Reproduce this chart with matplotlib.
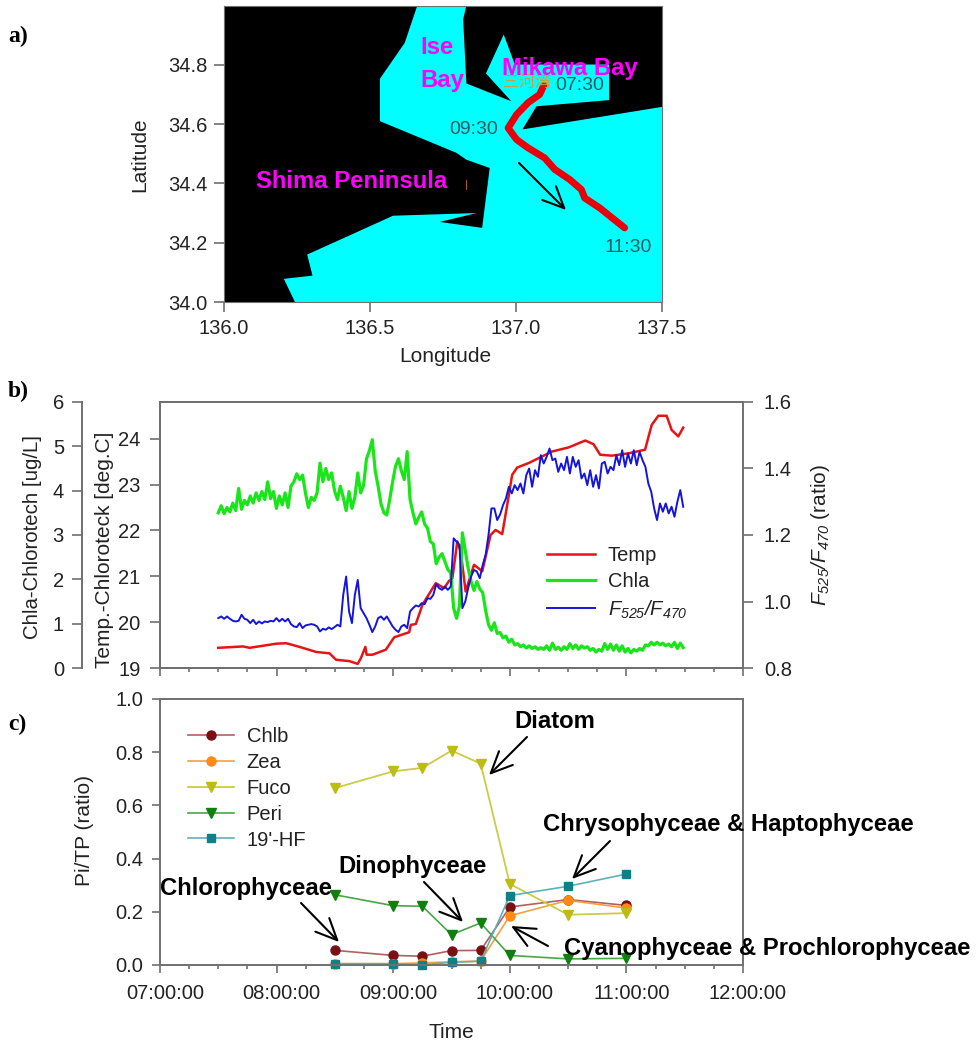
"""three panel figure: ship track map, underway temp/chla/fluorescence ratio, pigment ratios"""
import numpy as np
import matplotlib
matplotlib.use("Agg")
import matplotlib.pyplot as plt
from matplotlib.transforms import ScaledTranslation

plt.rcParams['font.family'] = ['Liberation Sans', 'DejaVu Sans']
plt.rcParams['mathtext.fontset'] = 'custom'
plt.rcParams['mathtext.rm'] = 'Liberation Sans:italic'
plt.rcParams['mathtext.it'] = 'Liberation Sans:italic'

W, H = 976, 1044
GREY = '#707070'
TEXT = '#222222'

# map outline (lon, lat), the sea is drawn over black land
sea_lon = [136.662, 136.830, 136.819, 136.830, 136.984, 136.897, 136.958, 136.996, 137.319, 137.319,
           137.070, 137.022, 137.5, 137.5, 136.243, 136.205, 136.303, 136.285, 136.579, 136.865,
           136.739, 136.884, 136.910, 136.830, 136.796, 136.534, 136.534, 136.619]
sea_lat = [35.0, 35.0, 34.953, 34.737, 34.677, 34.771, 34.902, 34.801, 34.801, 34.681,
           34.660, 34.582, 34.658, 34.0, 34.0, 34.078, 34.089, 34.160, 34.291, 34.300,
           34.270, 34.250, 34.452, 34.480, 34.503, 34.610, 34.753, 34.874]
track_lon = [137.095, 137.081, 137.041, 137.002, 136.973, 137.002, 137.041, 137.098, 137.133, 137.184,
             137.224, 137.235, 137.287, 137.372]
track_lat = [34.730, 34.700, 34.672, 34.632, 34.587, 34.548, 34.520, 34.486, 34.447, 34.413,
             34.379, 34.351, 34.317, 34.250]

# panel b, hours
temp_t = [7.499, 7.712, 7.769, 7.997, 8.083, 8.197, 8.339, 8.453, 8.510, 8.624, 8.695, 8.724, 8.761, 8.772,
          8.823, 8.937, 9.009, 9.137, 9.151, 9.194, 9.251, 9.365, 9.436, 9.479, 9.507, 9.550, 9.579, 9.621,
          9.693, 9.764, 9.835, 9.878, 9.935, 9.978, 10.020, 10.063, 10.163, 10.362, 10.505, 10.647, 10.718,
          10.775, 10.875, 11.017, 11.160, 11.217, 11.274, 11.345, 11.388, 11.445, 11.487]
temp = [19.44, 19.47, 19.44, 19.53, 19.54, 19.46, 19.35, 19.32, 19.18, 19.15, 19.09, 19.22, 19.46, 19.29,
        19.29, 19.40, 19.67, 19.78, 19.94, 19.96, 20.38, 20.85, 20.74, 20.90, 20.95, 21.76, 21.54, 20.67,
        21.25, 21.11, 21.90, 22.01, 21.92, 22.56, 23.21, 23.37, 23.47, 23.72, 23.81, 23.96, 23.88,
        23.65, 23.63, 23.68, 23.76, 24.30, 24.50, 24.50, 24.19, 24.05, 24.24]
chla = [3.50, 3.66, 3.48, 3.62, 3.52, 3.72, 3.55, 4.05, 3.58, 3.78, 3.68, 3.88, 3.72, 3.95, 3.78, 3.98,
        3.80, 4.20, 3.82, 3.98, 3.60, 3.88, 3.68, 3.95, 3.62, 4.10, 4.20, 4.38, 4.25, 4.35, 3.95, 3.62,
        3.85, 3.78, 3.95, 4.62, 4.20, 4.50, 4.25, 4.40, 4.00, 3.80, 4.10, 3.85, 3.55, 3.98, 3.60, 3.85,
        4.40, 3.95, 4.12, 4.72, 4.90, 5.15, 4.45, 4.10, 3.70, 3.50, 3.45, 3.80, 4.20, 4.55, 4.72, 4.45,
        4.25, 4.88, 3.80, 3.50, 3.25, 3.40, 3.52, 3.25, 3.15, 2.85, 2.80, 2.35, 2.50, 2.58, 2.40, 2.22,
        2.15, 1.35, 1.12, 1.40, 3.05, 2.65, 2.25, 1.95, 1.75, 1.95, 1.78, 1.70, 1.30, 0.98, 0.85, 1.02,
        0.78, 0.80, 0.68, 0.72, 0.58, 0.65, 0.52, 0.55, 0.48, 0.52, 0.45, 0.50, 0.44, 0.48, 0.42, 0.46,
        0.42, 0.50, 0.40, 0.56, 0.42, 0.47, 0.40, 0.48, 0.42, 0.55, 0.44, 0.52, 0.42, 0.50, 0.45, 0.48,
        0.40, 0.44, 0.36, 0.42, 0.38, 0.55, 0.42, 0.54, 0.40, 0.52, 0.38, 0.50, 0.36, 0.44, 0.34, 0.42,
        0.38, 0.44, 0.40, 0.52, 0.50, 0.58, 0.52, 0.58, 0.52, 0.56, 0.50, 0.54, 0.48, 0.58, 0.44, 0.56, 0.46]
ratio = [.950, .955, .948, .955, .948, .942, .940, .942, .960, .948, .945, .935, .945, .932, .940, .934,
         .940, .938, .942, .940, .950, .940, .948, .940, .948, .932, .925, .923, .935, .920, .928, .930,
         .932, .930, .925, .910, .918, .915, .922, .917, .923, .930, .925, 1.020, 1.075, .970, .935, 1.020,
         1.065, .980, .965, .950, .930, .908, .925, .950, .955, .945, .955, .940, .925, .915, .908, .925,
         .930, .920, .970, .980, .988, .985, .995, .992, 1.010, 1.008, 1.020, 1.052, 1.040, 1.035, 1.045, 1.035,
         1.045, 1.190, 1.180, 1.170, .980, 1.000, 1.040, 1.075, 1.095, 1.090, 1.070, 1.110, 1.140, 1.200, 1.280, 1.280,
         1.245, 1.262, 1.290, 1.310, 1.345, 1.325, 1.350, 1.335, 1.355, 1.325, 1.380, 1.400, 1.345, 1.395, 1.375, 1.440,
         1.415, 1.435, 1.460, 1.425, 1.430, 1.390, 1.415, 1.395, 1.435, 1.385, 1.435, 1.405, 1.425, 1.370, 1.385, 1.350,
         1.395, 1.345, 1.380, 1.340, 1.415, 1.420, 1.385, 1.405, 1.395, 1.440, 1.410, 1.455, 1.405, 1.445, 1.415, 1.455,
         1.410, 1.450, 1.425, 1.405, 1.355, 1.330, 1.280, 1.245, 1.295, 1.270, 1.295, 1.265, 1.285, 1.255, 1.300, 1.335, 1.285]

# panel c
pig_t = [8.5, 9.0, 9.25, 9.5, 9.75, 10.0, 10.5, 11.0]
chlb = [.055, .036, .033, .054, .055, .218, .246, .224]
zea = [.005, .005, .008, .012, .015, .185, .243, .214]
fuco = [.665, .728, .741, .806, .757, .305, .189, .195]
peri = [.264, .223, .221, .114, .158, .036, .023, .025]
hf = [.005, .005, .001, .010, .014, .261, .296, .342]


def box(left, top, right, bottom):
    return [left / W, 1 - bottom / H, (right - left) / W, (bottom - top) / H]


def fp(x, y):
    return (x / W, 1 - y / H)


def label(x, y, s, **kw):
    fig.text(x / W, 1 - y / H, s, va='center', **kw)


def arrow(x0, y0, x1, y1):
    fig_ax.annotate('', xy=fp(x1, y1), xytext=fp(x0, y0), xycoords='figure fraction', textcoords='figure fraction',
                    arrowprops=dict(arrowstyle='->,head_length=1.1,head_width=0.5', color='k', lw=1.5,
                                    mutation_scale=14, shrinkA=0, shrinkB=0))


def style(ax, size=14.5):
    for s in ax.spines.values():
        s.set_color(GREY)
        s.set_linewidth(1.4)
    ax.tick_params(which='both', color=GREY, width=1.2, labelsize=size, labelcolor=TEXT)


fig = plt.figure(figsize=(W / 100, H / 100), dpi=100)

# a) map
ax1 = fig.add_axes(box(224, 5.5, 662, 302))
ax1.set_facecolor('k')
ax1.fill(sea_lon, sea_lat, color='#00ffff', lw=0)
ax1.plot(track_lon, track_lat, color='#e8000a', lw=5, solid_capstyle='round', solid_joinstyle='round')
ax1.set_xlim(136, 137.5)
ax1.set_ylim(34, 35)
ax1.set_xticks([136.0, 136.5, 137.0, 137.5])
ax1.set_yticks([34.0, 34.2, 34.4, 34.6, 34.8])
ax1.set_xticklabels(['136.0', '136.5', '137.0', '137.5'])
style(ax1)
for s in ax1.spines.values():
    s.set_linewidth(0.8)
ax1.tick_params(length=7, pad=5)

# b) underway record, chla/temp share the left side
ax2 = fig.add_axes(box(160, 402, 743, 668))
ax2.set_xlim(7, 12)
ax2.set_ylim(19, 24.8)
ax2.set_yticks([19, 20, 21, 22, 23, 24])
ax2.set_xticks([7, 8, 9, 10, 11, 12])
ax2.set_xticks(np.arange(7, 12.01, .25), minor=True)
ax2.set_xticklabels([])
style(ax2)
ax2.spines['right'].set_visible(False)
ax2.tick_params(axis='x', which='major', length=6)
ax2.tick_params(axis='x', which='minor', length=3)
ax2.tick_params(axis='y', length=7, pad=7)

ax2b = ax2.twinx()
ax2b.set_ylim(0, 6)
ax2b.set_yticks([0, 1, 2, 3, 4, 5, 6])
style(ax2b)
ax2b.yaxis.tick_left()
ax2b.spines['left'].set_position(('outward', 78 * .72))
for s in ['top', 'right', 'bottom']:
    ax2b.spines[s].set_visible(False)
ax2b.tick_params(axis='y', length=7, pad=6)
ax2b.patch.set_visible(False)

ax2c = ax2.twinx()
ax2c.set_ylim(.8, 1.6)
ax2c.set_yticks([.8, 1.0, 1.2, 1.4, 1.6])
style(ax2c)
ax2c.tick_params(axis='y', length=7, pad=8)
ax2c.patch.set_visible(False)

l1, = ax2.plot(temp_t, temp, color='#e61414', lw=1.8, label='Temp')
l2, = ax2b.plot(np.linspace(7.5, 11.487, len(chla)), chla, color='#19e619', lw=2.3, label='Chla')
l3, = ax2c.plot(np.linspace(7.5, 11.487, len(ratio)), ratio, color='#1414dc', lw=1.4, label=r'$F_{525}/F_{470}$')
ax2c.legend(handles=[l1, l2, l3], loc='upper left', bbox_to_anchor=(529 / W, 1 - 528 / H),
            bbox_transform=fig.transFigure, frameon=False, fontsize=14.5, handlelength=2.4, handletextpad=.6,
            labelspacing=.35, labelcolor=TEXT)

# c) pigments
ax3 = fig.add_axes(box(160, 699, 743, 965))
ax3.set_xlim(7, 12)
ax3.set_ylim(0, 1)
ax3.set_yticks([0, .2, .4, .6, .8, 1.0])
ax3.set_yticklabels(['0.0', '0.2', '0.4', '0.6', '0.8', '1.0'])
ax3.set_xticks([7, 8, 9, 10, 11, 12])
ax3.set_xticklabels(['07:00:00', '08:00:00', '09:00:00', '10:00:00', '11:00:00', '12:00:00'])
ax3.set_xticks(np.arange(7, 12.01, .25), minor=True)
style(ax3)
ax3.tick_params(axis='x', which='major', length=6, pad=8)
ax3.tick_params(axis='x', which='minor', length=3)
ax3.tick_params(axis='y', length=6, pad=6)
for lab in ax3.get_xticklabels():
    lab.set_transform(lab.get_transform() + ScaledTranslation(.05, 0, fig.dpi_scale_trans))
ax3.plot(pig_t, chlb, '-o', color='#b06060', mfc='#7a0f14', mec='#7a0f14', ms=6.5, lw=1.2, label='Chlb', clip_on=False)
ax3.plot(pig_t, zea, '-o', color='#f5a040', mfc='#ff8a14', mec='#ff8a14', ms=6.5, lw=1.2, label='Zea', clip_on=False)
ax3.plot(pig_t, fuco, '-v', color='#cccc44', mfc='#bcbc14', mec='#bcbc14', ms=7.5, lw=1.3, label='Fuco', clip_on=False)
ax3.plot(pig_t, peri, '-v', color='#4aa44a', mfc='#0f800f', mec='#0f800f', ms=7.5, lw=1.2, label='Peri', clip_on=False)
ax3.plot(pig_t, hf, '-s', color='#60b0b8', mfc='#108088', mec='#108088', ms=6, lw=1.2, label="19'-HF", clip_on=False)
ax3.legend(loc='upper left', bbox_to_anchor=(170 / W, 1 - 709 / H), bbox_transform=fig.transFigure, frameon=False,
           fontsize=14.5, handlelength=2.3, handletextpad=.6, labelspacing=.34, labelcolor=TEXT)

# overlay for text and arrows placed by hand on the figure
fig_ax = fig.add_axes([0, 0, 1, 1])
fig_ax.axis('off')
fig_ax.set_zorder(10)

# axis titles
label(140, 155, 'Latitude', fontsize=15, color=TEXT, rotation=90, ha='center')
label(445, 357, 'Longitude', fontsize=15, color=TEXT, ha='center')
label(33, 537, 'Chla-Chlorotech [ug/L]', fontsize=14.7, color=TEXT, rotation=90, ha='center')
label(105, 550, 'Temp.-Chloroteck [deg.C]', fontsize=15, color=TEXT, rotation=90, ha='center')
label(820, 535, r'$F_{525}/F_{470}$ (ratio)', fontsize=15, color=TEXT, rotation=90, ha='center')
label(85, 830, 'Pi/TP (ratio)', fontsize=15, color=TEXT, rotation=90, ha='center')
label(451, 1033, 'Time', fontsize=15, color=TEXT, ha='center')

for name, y in [('a)', 36), ('b)', 391), ('c)', 724)]:
    label(8, y, name, fontsize=17, fontweight='bold', family='Liberation Serif')

for s, x, y in [('Ise', 420, 48), ('Bay', 420, 80), ('Mikawa Bay', 502, 68), ('Shima Peninsula', 256, 181)]:
    label(x, y, s, fontsize=17.2, fontweight='bold', color='#ff00ff', zorder=5)
label(503, 82, '三河湾', fontsize=11.5, color='#c8a040', family=['Noto Sans CJK JP', 'DejaVu Sans'], zorder=1)
label(465, 185, '|', fontsize=8, color='#c06020')
for s, x, y in [('07:30', 555, 85), ('09:30', 449, 130), ('11:30', 604, 247)]:
    label(x, y, s, fontsize=14, color='#2a5a60')
arrow(519, 163, 566, 210)

for s, x, y in [('Diatom', 514, 722), ('Chrysophyceae & Haptophyceae', 543, 825), ('Dinophyceae', 338, 867),
                ('Chlorophyceae', 160, 889), ('Cyanophyceae & Prochlorophyceae', 564, 949)]:
    label(x, y, s, fontsize=17.2, fontweight='bold', color='k')
arrow(527, 737, 489, 775)
arrow(610, 841, 572, 879)
arrow(548, 946, 511, 926)
arrow(424, 882, 463, 922)
arrow(301, 903, 339, 942)

fig.savefig('out.png', dpi=100)
